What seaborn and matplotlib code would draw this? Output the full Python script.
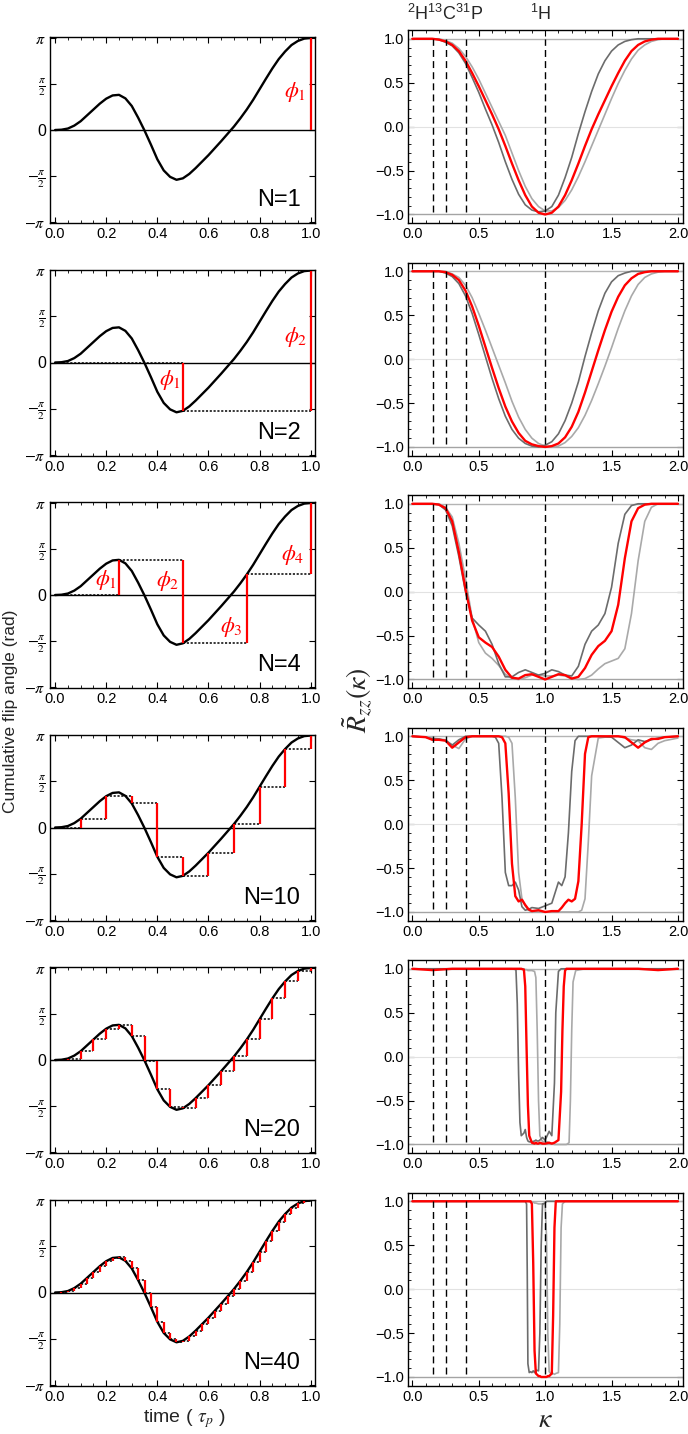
import numpy as np
import matplotlib
matplotlib.use('Agg')
import matplotlib.pyplot as plt
from matplotlib.ticker import MultipleLocator, FixedLocator
import seaborn as sns

# ---------------- data ----------------
# cumulative flip angle (rad) sampled every 0.025 tau_p
T_GRID = [0.000, 0.025, 0.050, 0.075, 0.100, 0.125, 0.150, 0.175, 0.200, 0.225,
          0.250, 0.275, 0.300, 0.325, 0.350, 0.375, 0.400, 0.425, 0.450, 0.475,
          0.500, 0.525, 0.550, 0.575, 0.600, 0.625, 0.650, 0.675, 0.700, 0.725,
          0.750, 0.775, 0.800, 0.825, 0.850, 0.875, 0.900, 0.925, 0.950, 0.975, 1.000]
THETA = [0.00, 0.01, 0.05, 0.15, 0.30, 0.50, 0.70, 0.90, 1.07, 1.18,
         1.20, 1.08, 0.82, 0.42, -0.02, -0.50, -1.00, -1.38, -1.60, -1.70,
         -1.65, -1.50, -1.30, -1.08, -0.86, -0.62, -0.38, -0.13, 0.12, 0.40,
         0.70, 1.03, 1.39, 1.75, 2.10, 2.42, 2.68, 2.90, 3.04, 3.12, 3.14]

N_VALUES = [1, 2, 4, 10, 20, 40]

# kappa grid used for N=1, 2, 4
K_COARSE = [0.00, 0.05, 0.10, 0.15, 0.20, 0.25, 0.30, 0.35, 0.40, 0.45,
            0.50, 0.55, 0.60, 0.65, 0.70, 0.75, 0.80, 0.85, 0.90, 0.95,
            1.00, 1.05, 1.10, 1.15, 1.20, 1.25, 1.30, 1.35, 1.40, 1.45,
            1.50, 1.55, 1.60, 1.65, 1.70, 1.75, 1.80, 1.85, 1.90, 1.95, 2.00]

N1_RED = [1, 1, 1, 1, 0.99, 0.97, 0.93, 0.86, 0.75, 0.61,
          0.46, 0.30, 0.14, -0.03, -0.22, -0.42, -0.61, -0.78, -0.91, -0.98,
          -1.00, -0.98, -0.91, -0.78, -0.61, -0.42, -0.22, -0.03, 0.14, 0.30,
          0.46, 0.61, 0.75, 0.86, 0.93, 0.97, 0.99, 1, 1, 1, 1]
N1_DARK = [1, 1, 1, 1, 0.99, 0.96, 0.92, 0.84, 0.72, 0.56,
           0.39, 0.20, 0.02, -0.18, -0.40, -0.60, -0.77, -0.89, -0.95, -0.97,
           -0.96, -0.91, -0.78, -0.58, -0.35, -0.08, 0.17, 0.40, 0.60, 0.75,
           0.86, 0.93, 0.97, 0.99, 1, 1, 1, 1, 1, 1, 1]
N1_LIGHT = [1, 1, 1, 1, 1, 0.98, 0.95, 0.89, 0.80, 0.68,
            0.54, 0.38, 0.22, 0.06, -0.10, -0.30, -0.50, -0.68, -0.82, -0.91,
            -0.96, -0.96, -0.92, -0.84, -0.72, -0.57, -0.40, -0.22, -0.04, 0.14,
            0.32, 0.49, 0.64, 0.77, 0.87, 0.93, 0.97, 0.99, 1, 1, 1]

N2_RED = [1, 1, 1, 1, 1, 0.99, 0.96, 0.90, 0.78, 0.60,
          0.38, 0.14, -0.10, -0.33, -0.54, -0.71, -0.84, -0.93, -0.97, -0.99,
          -1.00, -0.99, -0.96, -0.89, -0.77, -0.60, -0.38, -0.14, 0.10, 0.33,
          0.54, 0.71, 0.84, 0.92, 0.97, 0.99, 1, 1, 1, 1, 1]
N2_DARK = [1, 1, 1, 1, 1, 0.98, 0.94, 0.86, 0.72, 0.52,
           0.28, 0.03, -0.22, -0.45, -0.65, -0.80, -0.90, -0.96, -0.99, -1.00,
           -0.98, -0.94, -0.85, -0.70, -0.50, -0.26, 0.03, 0.30, 0.55, 0.75,
           0.88, 0.95, 0.98, 1, 1, 1, 1, 1, 1, 1, 1]
N2_LIGHT = [1, 1, 1, 1, 1, 1, 0.97, 0.93, 0.84, 0.70,
            0.52, 0.33, 0.13, -0.07, -0.27, -0.48, -0.66, -0.80, -0.90, -0.96,
            -0.99, -1.00, -0.99, -0.95, -0.88, -0.78, -0.64, -0.47, -0.28, -0.08,
            0.13, 0.35, 0.55, 0.72, 0.85, 0.93, 0.97, 0.99, 1, 1, 1]

N4_RED = [1, 1, 1, 1, 0.99, 0.95, 0.80, 0.45, 0.03, -0.33,
          -0.52, -0.58, -0.63, -0.74, -0.89, -0.98, -0.99, -0.95, -0.94, -0.97,
          -1.00, -0.97, -0.94, -0.95, -0.99, -0.97, -0.87, -0.72, -0.62, -0.56,
          -0.45, -0.15, 0.38, 0.80, 0.95, 0.99, 1, 1, 1, 1, 1]
N4_DARK = [1, 1, 1, 1, 0.99, 0.93, 0.75, 0.40, 0.00, -0.30,
           -0.38, -0.45, -0.60, -0.82, -0.97, -0.97, -0.92, -0.89, -0.92, -0.95,
           -0.93, -0.89, -0.91, -0.95, -0.96, -0.85, -0.60, -0.45, -0.38, -0.25,
           0.05, 0.55, 0.88, 0.98, 1, 1, 1, 1, 1, 1, 1]
N4_LIGHT = [1, 1, 1, 1, 1, 0.96, 0.85, 0.55, 0.15, -0.30,
            -0.58, -0.70, -0.76, -0.84, -0.94, -0.99, -1.00, -0.98, -0.95, -0.95,
            -0.96, -0.96, -0.95, -0.96, -0.99, -1.00, -0.99, -0.95, -0.88, -0.82,
            -0.79, -0.76, -0.65, -0.25, 0.35, 0.80, 0.96, 1, 1, 1, 1]

K10 = [0, 0.1, 0.15, 0.2, 0.25, 0.3, 0.35, 0.4, 0.45, 0.5,
       0.55, 0.6, 0.625, 0.65, 0.675, 0.7, 0.725, 0.75, 0.775, 0.8,
       0.825, 0.85, 0.875, 0.9, 0.95, 1.0, 1.05, 1.1, 1.125, 1.15,
       1.175, 1.2, 1.225, 1.25, 1.275, 1.3, 1.325, 1.35, 1.4, 1.5,
       1.55, 1.6, 1.65, 1.7, 1.75, 1.8, 1.85, 1.9, 2.0]
N10_RED = [1.0, 0.99, 0.96, 0.96, 0.95, 0.87, 0.93, 0.99, 1.0, 1.0,
           1.0, 1.0, 1.0, 1.0, 0.99, 0.92, 0.35, -0.45, -0.82, -0.88,
           -0.86, -0.92, -0.97, -0.99, -0.98, -1.0, -0.99, -0.99, -0.95, -0.90,
           -0.86, -0.88, -0.85, -0.65, 0.0, 0.8, 0.99, 1.0, 1.0, 1.0,
           1.0, 0.99, 0.93, 0.87, 0.93, 0.97, 0.97, 0.99, 1.0]
N10_DARK = [1.0, 0.99, 0.97, 0.97, 0.95, 0.90, 0.96, 1.0, 1.0, 1.0,
            1.0, 1.0, 0.99, 0.92, 0.30, -0.55, -0.70, -0.70, -0.66, -0.75,
            -0.94, -0.98, -0.97, -0.95, -0.96, -0.93, -0.90, -0.66, -0.70, -0.60,
            -0.10, 0.60, 0.95, 1.0, 1.0, 1.0, 1.0, 1.0, 1.0, 0.99,
            0.93, 0.87, 0.90, 0.96, 0.94, 0.96, 0.98, 0.99, 1.0]
N10_LIGHT = [1.0, 0.99, 0.98, 0.97, 0.96, 0.90, 0.86, 0.97, 1.0, 1.0,
             1.0, 1.0, 1.0, 1.0, 1.0, 1.0, 0.99, 0.92, 0.30, -0.55,
             -0.85, -0.93, -0.98, -1.0, -0.99, -1.0, -1.0, -1.0, -1.0, -1.0,
             -1.0, -1.0, -1.0, -1.0, -0.98, -0.85, -0.20, 0.55, 0.98, 1.0,
             1.0, 0.98, 0.96, 0.95, 0.87, 0.85, 0.92, 0.95, 0.98]

K20 = [0, 0.15, 0.3, 0.5, 0.7, 0.75, 0.78, 0.79, 0.8, 0.81,
       0.82, 0.84, 0.85, 0.86, 0.87, 0.88, 0.9, 0.92, 0.93, 0.94,
       0.95, 0.96, 0.98, 1.0, 1.03, 1.05, 1.07, 1.08, 1.1, 1.12,
       1.13, 1.14, 1.15, 1.16, 1.18, 1.19, 1.2, 1.21, 1.23, 1.3,
       1.5, 1.7, 1.85, 2.0]
N20_RED = [1.0, 0.985, 1.0, 1.0, 1.0, 1.0, 1.0, 1.0, 1.0, 1.0,
           1.0, 0.99, 0.8, 0.1, -0.55, -0.9, -0.98, -0.99, -0.98, -0.99,
           -0.99, -0.98, -0.99, -0.99, -0.98, -0.99, -0.98, -0.97, -0.95, -0.4,
           0.3, 0.8, 0.98, 1.0, 1.0, 1.0, 1.0, 1.0, 1.0, 1.0,
           1.0, 1.0, 0.985, 1.0]
N20_DARK = [1.0, 1.0, 1.0, 1.0, 1.0, 1.0, 0.99, 0.6, -0.2, -0.75,
            -0.9, -0.87, -0.83, -0.92, -0.96, -0.97, -0.97, -0.96, -0.95, -0.96,
            -0.96, -0.95, -0.92, -0.95, -0.85, -0.9, -0.3, 0.5, 0.97, 1.0,
            1.0, 1.0, 1.0, 1.0, 1.0, 1.0, 1.0, 1.0, 1.0, 1.0,
            1.0, 1.0, 1.0, 1.0]
N20_LIGHT = [1.0, 1.0, 1.0, 1.0, 1.0, 1.0, 1.0, 1.0, 1.0, 1.0,
             1.0, 1.0, 0.99, 0.99, 0.98, 0.98, 0.98, 0.97, 0.9, 0.3,
             -0.5, -0.9, -0.97, -0.96, -0.98, -0.99, -1.0, -1.0, -1.0, -1.0,
             -1.0, -1.0, -1.0, -1.0, -0.98, -0.5, 0.3, 0.85, 0.98, 1.0,
             1.0, 1.0, 1.0, 1.0]

K40 = [0, 0.5, 0.8, 0.85, 0.86, 0.865, 0.87, 0.88, 0.89, 0.9,
       0.91, 0.92, 0.93, 0.95, 0.96, 0.97, 0.98, 1.0, 1.01, 1.02,
       1.03, 1.05, 1.06, 1.07, 1.08, 1.1, 1.11, 1.12, 1.13, 1.15,
       1.2, 1.5, 2.0]
N40_RED = [1, 1, 1, 1, 1, 1, 1, 1, 1.0, 0.97,
           0.3, -0.7, -0.96, -0.99, -0.99, -1.0, -1.0, -1.0, -1.0, -0.99,
           -0.99, -0.96, -0.3, 0.7, 1.0, 1, 1, 1, 1, 1,
           1, 1, 1]
N40_DARK = [1, 1, 1, 1, 0.97, 0.2, -0.85, -0.95, -0.94, -0.95,
            -0.93, -0.95, -0.92, -0.93, -0.5, 0.5, 0.97, 0.98, 1.0, 1.0,
            1, 1, 1, 1, 1, 1, 1, 1, 1, 1,
            1, 1, 1]
N40_LIGHT = [1, 1, 1, 1, 1, 1, 1, 1, 1, 0.99,
             0.99, 0.98, 0.98, 0.97, 0.97, 0.97, 0.97, 0.96, 0.6, -0.5,
             -0.94, -0.97, -0.96, -0.97, -0.96, -0.95, -0.4, 0.7, 0.97, 1.0,
             1, 1, 1]

NUCLEI_KAPPA = [0.1535, 0.2514, 0.4048, 1.0]
LEFT_XTICKS = [0.0, 0.2, 0.4, 0.6, 0.8, 1.0]
LEFT_XTICKLABELS = ['0.0', '0.2', '0.4', '0.6', '0.8', '1.0']
LEFT_YTICKS = [-np.pi, -np.pi / 2, 0, np.pi / 2, np.pi]
LEFT_YTICKLABELS = [r'$-\pi$', r'$-\frac{\pi}{2}$', '0', r'$\frac{\pi}{2}$', r'$\pi$']
RIGHT_XTICKS = [0.0, 0.5, 1.0, 1.5, 2.0]
RIGHT_XTICKLABELS = ['0.0', '0.5', '1.0', '1.5', '2.0']
RIGHT_YTICKS = [-1.0, -0.5, 0.0, 0.5, 1.0]
RIGHT_YTICKLABELS = ['\u22121.0', '\u22120.5', '0.0', '0.5', '1.0']

PHI_LABELS = {
    1: [(0.94, 1.30, r'$\phi_1$')],
    2: [(0.45, -0.59, r'$\phi_1$'), (0.94, 0.88, r'$\phi_2$')],
    4: [(0.20, 0.51, r'$\phi_1$'), (0.44, 0.48, r'$\phi_2$'),
        (0.69, -1.08, r'$\phi_3$'), (0.93, 1.36, r'$\phi_4$')],
}

RIGHT_SETS = [
    (K_COARSE, N1_RED, N1_DARK, N1_LIGHT),
    (K_COARSE, N2_RED, N2_DARK, N2_LIGHT),
    (K_COARSE, N4_RED, N4_DARK, N4_LIGHT),
    (K10, N10_RED, N10_DARK, N10_LIGHT),
    (K20, N20_RED, N20_DARK, N20_LIGHT),
    (K40, N40_RED, N40_DARK, N40_LIGHT),
]

# ---------------- style ----------------
sns.set_theme(style='ticks')
plt.rcParams['font.family'] = ['Liberation Sans', 'DejaVu Sans']
plt.rcParams['mathtext.fontset'] = 'stix'
plt.rcParams['axes.edgecolor'] = 'black'
plt.rcParams['axes.linewidth'] = 1.0
plt.rcParams['xtick.color'] = 'black'
plt.rcParams['ytick.color'] = 'black'

W, H = 688, 1434
fig = plt.figure(figsize=(W / 100, H / 100), dpi=100)

RED = '#ff0000'
DARK = '#6c6c6c'
LIGHT = '#a9a9a9'


def style_ticks(ax):
    ax.tick_params(which='both', direction='in', top=True, right=True)
    ax.tick_params(which='major', length=4, width=0.8, labelsize=10.5, pad=3)
    ax.tick_params(which='minor', length=2, width=0.6)


for i, N in enumerate(N_VALUES):
    # ---- left panel ----
    top = 37 + 232.5 * i
    h = 186
    axl = fig.add_axes([50 / W, 1 - (top + h) / H, 265 / W, h / H])
    axl.axhline(0, color='black', lw=1.0, zorder=1)
    step = 40 // N
    idx = list(range(0, 41, step))
    for a, b in zip(idx[:-1], idx[1:]):
        if N > 1:
            axl.hlines(THETA[a], T_GRID[a], T_GRID[b], colors='black',
                       linestyles=(0, (1.4, 1.1)), lw=1.1, zorder=2)
        axl.vlines(T_GRID[b], THETA[a], THETA[b], colors=RED, lw=1.6, zorder=4)
    sns.lineplot(x=T_GRID, y=THETA, ax=axl, color='black', lw=1.7,
                 estimator=None, sort=False, zorder=3)
    axl.set_xlim(-0.02, 1.017)
    axl.set_ylim(-3.175, 3.175)
    axl.xaxis.set_major_locator(FixedLocator(LEFT_XTICKS))
    axl.set_xticklabels(LEFT_XTICKLABELS)
    axl.xaxis.set_minor_locator(MultipleLocator(0.05))
    axl.yaxis.set_major_locator(FixedLocator(LEFT_YTICKS))
    axl.set_yticklabels(LEFT_YTICKLABELS)
    style_ticks(axl)
    axl.tick_params(axis='y', labelsize=11.5)
    axl.set_xlabel('')
    axl.set_ylabel('')
    axl.text(0.945, 0.09, f'N={N}', transform=axl.transAxes, ha='right',
             va='baseline', fontsize=17, color='black')
    for (tx, ty, lab) in PHI_LABELS.get(N, []):
        axl.text(tx, ty, lab, color=RED, fontsize=16, ha='center', va='center')

    # ---- right panel ----
    top = 30 + 232.5 * i
    h = 193
    axr = fig.add_axes([408 / W, 1 - (top + h) / H, 275 / W, h / H])
    K, red, dark, light = RIGHT_SETS[i]
    axr.axhline(1, color='#b4b4b4', lw=1.0, zorder=1)
    axr.axhline(-1, color='#a4a4a4', lw=1.0, zorder=1)
    axr.axhline(0, color='#e2e2e2', lw=0.8, zorder=1)
    sns.lineplot(x=K, y=light, ax=axr, color=LIGHT, lw=1.2,
                 estimator=None, sort=False, zorder=2)
    sns.lineplot(x=K, y=dark, ax=axr, color=DARK, lw=1.2,
                 estimator=None, sort=False, zorder=3)
    sns.lineplot(x=K, y=red, ax=axr, color=RED, lw=1.7,
                 estimator=None, sort=False, zorder=4)
    axr.vlines(NUCLEI_KAPPA, -0.97, 1.0, colors='black',
               linestyles=(0, (5, 3)), lw=1.0, zorder=5)
    axr.set_xlim(-0.033, 2.038)
    axr.set_ylim(-1.097, 1.10)
    axr.xaxis.set_major_locator(FixedLocator(RIGHT_XTICKS))
    axr.set_xticklabels(RIGHT_XTICKLABELS)
    axr.xaxis.set_minor_locator(MultipleLocator(0.1))
    axr.yaxis.set_major_locator(FixedLocator(RIGHT_YTICKS))
    axr.set_yticklabels(RIGHT_YTICKLABELS)
    axr.yaxis.set_minor_locator(MultipleLocator(0.1))
    style_ticks(axr)
    axr.set_xlabel('')
    axr.set_ylabel('')

# ---------------- labels ----------------
fig.text(11 / W, 1 - 711 / H, 'Cumulative flip angle (rad)', rotation=90,
         ha='center', va='center', fontsize=12.5)
fig.text(357 / W, 1 - 700 / H, r'$\tilde{R}_{zz}(\kappa)$', rotation=90,
         ha='center', va='center', fontsize=20)
fig.text(184 / W, 1 - 1419 / H, r'time ( $\tau_p$ )', ha='center', va='center',
         fontsize=14)
fig.text(545 / W, 1 - 1420 / H, r'$\kappa$', ha='center', va='center', fontsize=20)
fig.text(407 / W, 1 - 20 / H, r'$\mathregular{^{2}H^{13}C^{31}P}$', ha='left',
         va='baseline', fontsize=13)
fig.text(530 / W, 1 - 20 / H, r'$\mathregular{^{1}H}$', ha='left',
         va='baseline', fontsize=13)

fig.savefig('out.png', dpi=100)
